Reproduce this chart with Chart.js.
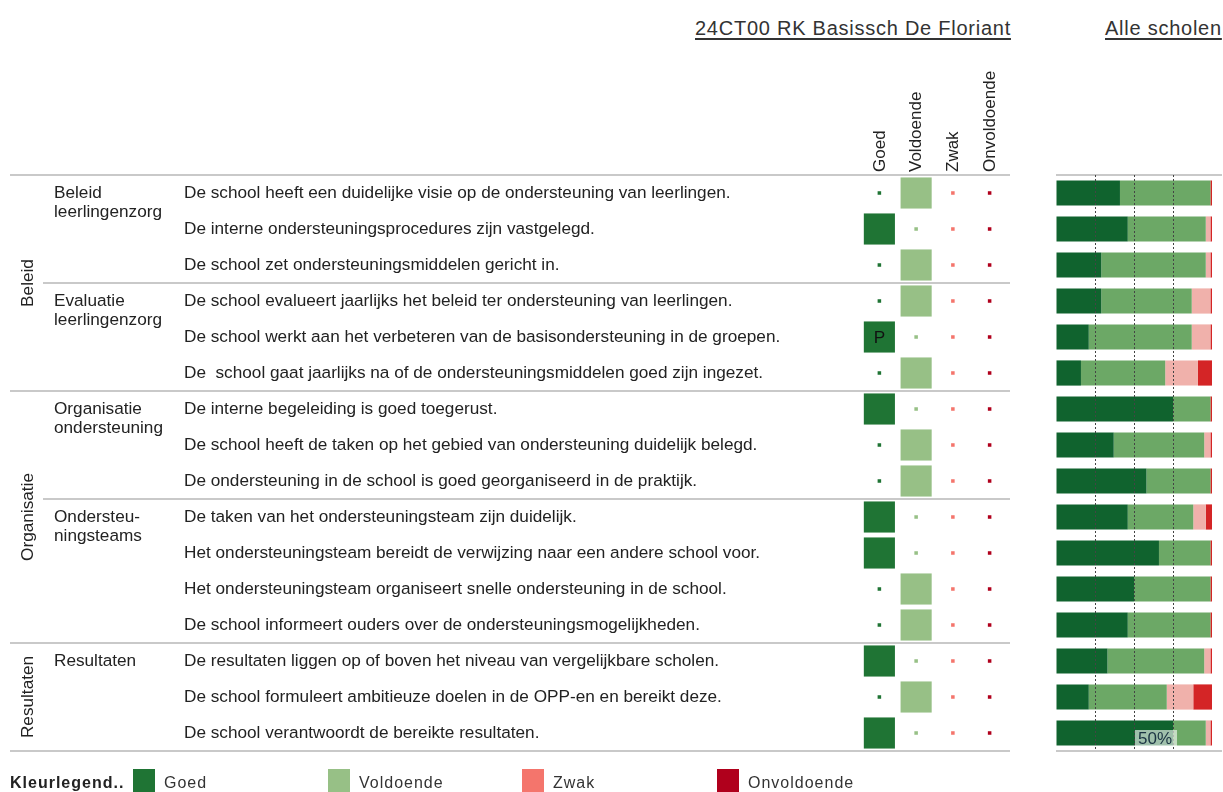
<!DOCTYPE html>
<html lang="nl">
<head>
<meta charset="utf-8">
<title>Ondersteuning - 24CT00 RK Basissch De Floriant</title>
<script src="https://cdn.jsdelivr.net/npm/chart.js@4"></script>
<style>
  body { margin: 0; background: #fff; font-family: 'Liberation Sans', Arial, sans-serif; color: #333; }
  #wrap { position: relative; width: 1223px; height: 792px; overflow: hidden; }
  canvas { position: absolute; top: 0; }
  #matrix { left: 0; }
  #alle { left: 1040px; }
  .title { position: absolute; top: 16px; font-size: 20px; line-height: 24px; letter-spacing: 0.75px;
           text-decoration: underline; text-underline-offset: 3px; white-space: nowrap; color: #333; }
  .lg-title { position: absolute; left: 10px; top: 771px; font-size: 16px; line-height: 24px; font-weight: bold;
              letter-spacing: 1px; color: #222; white-space: nowrap; }
  .lg-box { position: absolute; top: 769px; width: 22px; height: 23px; }
  .lg-text { position: absolute; top: 771px; font-size: 16px; line-height: 24px; letter-spacing: 1px; color: #333; white-space: nowrap; }
</style>
</head>
<body>
<div id="wrap">
  <div class="title" style="left:695px">24CT00 RK Basissch De Floriant</div>
  <div class="title" style="left:1105px">Alle scholen</div>
  <canvas id="matrix" width="1030" height="792"></canvas>
  <canvas id="alle" width="183" height="792"></canvas>
  <div id="legend"></div>
</div>
<script>
// Kolommen van de school-matrix
const ratings = ["Goed", "Voldoende", "Zwak", "Onvoldoende"];
const ratingColors = ["#1f7434", "#97c086", "#f4756c", "#b0001c"];

// Stellingen (rijen)
const questions = [
  "De school heeft een duidelijke visie op de ondersteuning van leerlingen.",
  "De interne ondersteuningsprocedures zijn vastgelegd.",
  "De school zet ondersteuningsmiddelen gericht in.",
  "De school evalueert jaarlijks het beleid ter ondersteuning van leerlingen.",
  "De school werkt aan het verbeteren van de basisondersteuning in de groepen.",
  "De  school gaat jaarlijks na of de ondersteuningsmiddelen goed zijn ingezet.",
  "De interne begeleiding is goed toegerust.",
  "De school heeft de taken op het gebied van ondersteuning duidelijk belegd.",
  "De ondersteuning in de school is goed georganiseerd in de praktijk.",
  "De taken van het ondersteuningsteam zijn duidelijk.",
  "Het ondersteuningsteam bereidt de verwijzing naar een andere school voor.",
  "Het ondersteuningsteam organiseert snelle ondersteuning in de school.",
  "De school informeert ouders over de ondersteuningsmogelijkheden.",
  "De resultaten liggen op of boven het niveau van vergelijkbare scholen.",
  "De school formuleert ambitieuze doelen in de OPP-en en bereikt deze.",
  "De school verantwoordt de bereikte resultaten."
];

// Hoofdgroepen en subgroepen (index van eerste rij)
const groupLabels = ["Beleid", "Organisatie", "Resultaten"];
const groupStart = [0, 6, 13];
const subgroupLabels = [["Beleid", "leerlingenzorg"], ["Evaluatie", "leerlingenzorg"],
  ["Organisatie", "ondersteuning"], ["Ondersteu-", "ningsteams"], ["Resultaten"]];
const subgroupStart = [0, 3, 6, 9, 13];

// Oordeel van de school per stelling (index in ratings) en notitie
const schoolRating = [1, 0, 1, 1, 0, 1, 0, 1, 1, 0, 0, 1, 1, 0, 1, 0];
const schoolNote = ["", "", "", "", "P", "", "", "", "", "", "", "", "", "", "", ""];

// Alle scholen: verdeling in procenten
const allGoed        = [41, 46, 29, 29, 21, 16, 75, 37, 58, 46, 66, 50, 46, 33, 21, 75];
const allVoldoende   = [58, 50, 67, 58, 66, 54, 24, 58, 41, 42, 33, 49, 53, 62, 50, 21];
const allZwak        = [0, 3, 3, 12, 12, 21, 0, 4, 0, 8, 0, 0, 0, 4, 17, 3];
const allOnvoldoende = [1, 1, 1, 1, 1, 9, 1, 1, 1, 4, 1, 1, 1, 1, 12, 1];
const allColors = ["#10632e", "#6ca866", "#f0b1ab", "#d42526"];
const refLines = [25, 50, 75];
const refLabel = "50%";
const refLabelValue = 50;

const fontStack = "'Liberation Sans', Arial, sans-serif";
Chart.defaults.font.family = fontStack;
Chart.defaults.color = "#222";

const lineColor = "#c9c9c9";

// Scheidingslijnen, groepslabels en notities
const matrixDecor = {
  id: "matrixDecor",
  beforeDatasetsDraw(chart) {
    const ctx = chart.ctx;
    const y = chart.scales.y;
    const step = y.getPixelForValue(1) - y.getPixelForValue(0);
    const right = chart.chartArea.right + 2;
    const majors = groupStart.concat([questions.length]);
    const minors = subgroupStart.filter(s => !groupStart.includes(s));
    ctx.save();
    ctx.strokeStyle = lineColor;
    ctx.lineWidth = 2;
    majors.forEach(i => {
      const py = Math.round(y.getPixelForValue(i) - step / 2);
      ctx.beginPath(); ctx.moveTo(10, py); ctx.lineTo(right, py); ctx.stroke();
    });
    minors.forEach(i => {
      const py = Math.round(y.getPixelForValue(i) - step / 2);
      ctx.beginPath(); ctx.moveTo(43, py); ctx.lineTo(right, py); ctx.stroke();
    });
    ctx.restore();
  },
  afterDraw(chart) {
    const ctx = chart.ctx;
    const y = chart.scales.y;
    ctx.save();
    ctx.fillStyle = "#222";
    ctx.font = "17.2px " + fontStack;
    ctx.textBaseline = "middle";
    // subgroepen
    ctx.textAlign = "left";
    subgroupLabels.forEach((lines, k) => {
      const py = y.getPixelForValue(subgroupStart[k]);
      lines.forEach((t, j) => ctx.fillText(t, 54, py + j * 19));
    });
    // hoofdgroepen, verticaal
    ctx.textAlign = "center";
    groupLabels.forEach((t, k) => {
      const first = groupStart[k];
      const last = (k + 1 < groupStart.length ? groupStart[k + 1] : questions.length) - 1;
      const py = (y.getPixelForValue(first) + y.getPixelForValue(last)) / 2;
      ctx.save();
      ctx.translate(28, py);
      ctx.rotate(-Math.PI / 2);
      ctx.fillText(t, 0, 0);
      ctx.restore();
    });
    // notitie in het vakje
    schoolNote.forEach((t, i) => {
      if (!t) return;
      const pt = chart.getDatasetMeta(schoolRating[i]).data[i];
      ctx.fillStyle = "#111";
      ctx.fillText(t, pt.x, pt.y + 1);
    });
    ctx.restore();
  }
};

new Chart(document.getElementById("matrix"), {
  type: "scatter",
  data: {
    datasets: ratings.map((r, c) => ({
      label: r,
      data: questions.map(q => ({ x: r, y: q })),
      pointStyle: "rect",
      backgroundColor: ratingColors[c],
      borderColor: ratingColors[c],
      borderWidth: 0,
      pointRadius: ctx => schoolRating[ctx.dataIndex] === c ? 22 : 2.5,
      clip: false
    }))
  },
  options: {
    responsive: false,
    animation: false,
    events: [],
    layout: { padding: { left: 184, right: 17, top: 55, bottom: 41 } },
    plugins: { legend: { display: false }, tooltip: { enabled: false } },
    scales: {
      x: {
        type: "category",
        labels: ratings,
        position: "top",
        offset: true,
        grid: { display: false, drawTicks: false },
        border: { display: false },
        ticks: { minRotation: 90, maxRotation: 90, padding: 3, labelOffset: 21, font: { size: 17 }, color: "#222" },
        afterFit: s => { s.height = 120; }
      },
      y: {
        type: "category",
        labels: questions,
        offset: true,
        grid: { display: false, drawTicks: false },
        border: { display: false },
        ticks: { crossAlign: "far", autoSkip: false, font: { size: 17.2 }, color: "#222" },
        afterFit: s => { s.width = 677; }
      }
    }
  },
  plugins: [matrixDecor]
});

// Lijnen boven/onder en het 50%-label
const allDecor = {
  id: "allDecor",
  beforeDatasetsDraw(chart) {
    const ctx = chart.ctx;
    const a = chart.chartArea;
    ctx.save();
    ctx.strokeStyle = lineColor;
    ctx.lineWidth = 2;
    [a.top, a.bottom].forEach(py => {
      ctx.beginPath(); ctx.moveTo(a.left, Math.round(py)); ctx.lineTo(chart.width - 1, Math.round(py)); ctx.stroke();
    });
    ctx.restore();
  },
  afterDraw(chart) {
    const ctx = chart.ctx;
    const x = chart.scales.x;
    const y = chart.scales.y;
    const px = x.getPixelForValue(refLabelValue);
    const py = y.getPixelForValue(questions.length - 1);
    ctx.save();
    ctx.font = "17px " + fontStack;
    const w = ctx.measureText(refLabel).width + 8;
    ctx.fillStyle = "rgba(255,255,255,0.6)";
    ctx.fillRect(px + 1, py - 3, w, 16);
    ctx.fillStyle = "#1a3342";
    ctx.textBaseline = "middle";
    ctx.textAlign = "left";
    ctx.fillText(refLabel, px + 4, py + 6);
    ctx.restore();
  }
};

const allSeries = [allGoed, allVoldoende, allZwak, allOnvoldoende];

new Chart(document.getElementById("alle"), {
  type: "bar",
  data: {
    labels: questions,
    datasets: ratings.map((r, c) => ({
      label: r,
      data: allSeries[c],
      backgroundColor: allColors[c],
      borderWidth: 0,
      barPercentage: 0.7,
      categoryPercentage: 1.0
    }))
  },
  options: {
    indexAxis: "y",
    responsive: false,
    animation: false,
    events: [],
    layout: { padding: { left: 16, right: 11, top: 175, bottom: 41 } },
    plugins: { legend: { display: false }, tooltip: { enabled: false } },
    scales: {
      x: {
        stacked: true,
        min: 0,
        max: 100,
        position: "bottom",
        ticks: { display: false, stepSize: 25 },
        grid: {
          drawTicks: false,
          z: 1,
          lineWidth: 1,
          color: ctx => refLines.includes(ctx.tick && ctx.tick.value) ? "#444" : "rgba(0,0,0,0)"
        },
        border: { display: false, dash: [2, 2] }
      },
      y: {
        stacked: true,
        display: false
      }
    }
  },
  plugins: [allDecor]
});

// Kleurlegenda
const legendX = [133, 328, 522, 717];
const legendEl = document.getElementById("legend");
legendEl.innerHTML = '<div class="lg-title">Kleurlegend..</div>' +
  ratings.map((r, c) =>
    `<div class="lg-box" style="left:${legendX[c]}px;background:${ratingColors[c]}"></div>` +
    `<div class="lg-text" style="left:${legendX[c] + 31}px">${r}</div>`
  ).join("");
</script>
</body>
</html>
